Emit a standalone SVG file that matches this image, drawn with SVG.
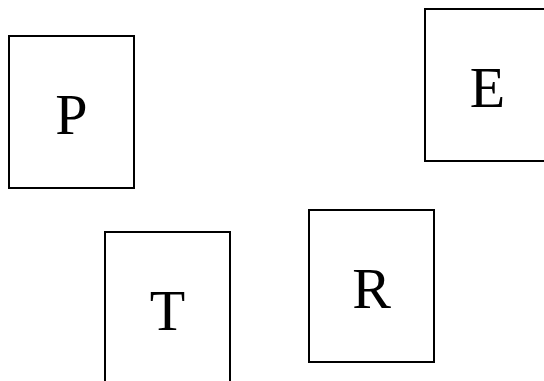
<svg xmlns="http://www.w3.org/2000/svg" width="544" height="381" viewBox="0 0 544 381">
<style>
.box{fill:#fff;stroke:#000;stroke-width:2}
.lbl{font-family:"Liberation Serif","Times New Roman",serif;font-size:58px;text-anchor:middle;fill:#000}
</style>
<rect width="544" height="381" fill="#fff"/>
<g id="connectors"></g>
<g id="P"><rect class="box" x="9" y="36" width="125" height="152"/><text class="lbl" x="71.5" y="134">P</text></g>
<g id="E"><rect class="box" x="425" y="9" width="125" height="152"/><text class="lbl" x="487.5" y="107">E</text></g>
<g id="T"><rect class="box" x="105" y="232" width="125" height="152"/><text class="lbl" x="167.5" y="330">T</text></g>
<g id="R"><rect class="box" x="309" y="210" width="125" height="152"/><text class="lbl" x="371.5" y="308">R</text></g>
</svg>
